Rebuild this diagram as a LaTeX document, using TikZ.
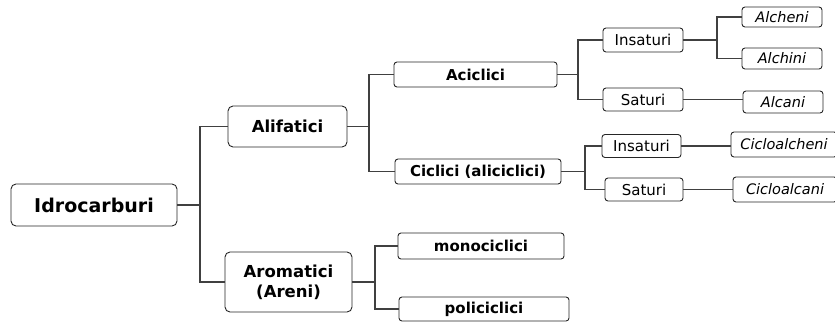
\documentclass[tikz,border=0pt]{standalone}
\usepackage{fontspec}
\setmainfont{DejaVu Sans}

\begin{document}
\begin{tikzpicture}[x=1pt, y=-1pt,
    box/.style={draw=black!85, line width=0.9pt, inner sep=0pt, rounded corners=3pt},
    rootbox/.style={box, rounded corners=5pt, font=\bfseries\fontsize{19}{22}\selectfont},
    midbox/.style={box, rounded corners=5pt, align=center, font=\bfseries\fontsize{16.5}{20}\selectfont},
    subbox/.style={box, font=\bfseries\fontsize{15}{18}\selectfont},
    kindbox/.style={box, font=\fontsize{15}{18}\selectfont},
    leafbox/.style={box, font=\itshape\fontsize{14.5}{17}\selectfont},
    wire/.style={draw=black!75, line width=1.2pt}]
        \useasboundingbox (0,0) rectangle (835,322);

        \node[rootbox, minimum width=166, minimum height=42] (idro) at (94,205) {Idrocarburi};

        \node[midbox, minimum width=119, minimum height=41] (alif) at (287.5,126.5) {Alifatici};
        \node[midbox, minimum width=127, minimum height=60] (arom) at (288.5,282) {Aromatici\\(Areni)};

        \node[subbox, minimum width=163, minimum height=25] (acic) at (475.5,74.5) {Aciclici};
        \node[subbox, minimum width=166, minimum height=25] (cicl) at (478,171.5) {Ciclici (aliciclici)};
        \node[subbox, minimum width=166, minimum height=26] (mono) at (481,246) {monociclici};
        \node[subbox, minimum width=170, minimum height=24] (poli) at (484,309) {policiclici};

        \node[kindbox, minimum width=80, minimum height=24] (ins1) at (643,40) {Insaturi};
        \node[kindbox, minimum width=80, minimum height=23] (sat1) at (643,99.5) {Saturi};
        \node[kindbox, minimum width=79, minimum height=23] (ins2) at (641.5,146) {Insaturi};
        \node[kindbox, minimum width=78, minimum height=23] (sat2) at (644,189.5) {Saturi};

        \node[leafbox, minimum width=80, minimum height=20] (alche) at (782,17) {Alcheni};
        \node[leafbox, minimum width=80, minimum height=21] (alchi) at (782,58.5) {Alchini};
        \node[leafbox, minimum width=80, minimum height=22] (alca) at (783,102) {Alcani};
        \node[leafbox, minimum width=106, minimum height=25] (calche) at (784,144.5) {Cicloalcheni};
        \node[leafbox, minimum width=104, minimum height=25] (calca) at (785,189.5) {Cicloalcani};

        \coordinate (j0) at (200,205);
        \coordinate (j1) at (369,126.5);
        \coordinate (j2) at (375,282);
        \coordinate (j3) at (578,74.5);
        \coordinate (j4) at (585,171.5);
        \coordinate (j5) at (717,40);

        \draw[wire] (idro) -- (j0);
        \draw[wire] (j0) |- (alif);
        \draw[wire] (j0) |- (arom);
        \draw[wire] (alif) -- (j1);
        \draw[wire] (j1) |- (acic);
        \draw[wire] (j1) |- (cicl);
        \draw[wire] (arom) -- (j2);
        \draw[wire] (j2) |- (mono);
        \draw[wire] (j2) |- (poli);
        \draw[wire] (acic) -- (j3);
        \draw[wire] (j3) |- (ins1);
        \draw[wire] (j3) |- (sat1);
        \draw[wire] (cicl) -- (j4);
        \draw[wire] (j4) |- (ins2);
        \draw[wire] (j4) |- (sat2);
        \draw[wire] (ins1) -- (j5);
        \draw[wire] (j5) |- (alche);
        \draw[wire] (j5) |- (alchi);
        \draw[wire] (sat1.east) -- (sat1.east -| alca.west);
        \draw[wire] (ins2.east) -- (ins2.east -| calche.west);
        \draw[wire] (sat2) -- (calca);
\end{tikzpicture}
\end{document}
